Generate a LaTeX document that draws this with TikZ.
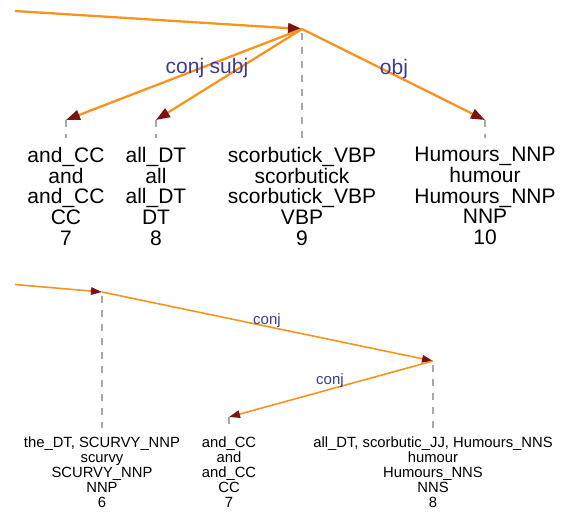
\documentclass[tikz,border=0pt]{standalone}
\usepackage{fontspec}
\setmainfont{Liberation Sans}
\usetikzlibrary{arrows.meta}
\definecolor{edgeor}{HTML}{F7941D}
\definecolor{tipred}{HTML}{7A1414}
\definecolor{lblblue}{HTML}{3B3B96}
\definecolor{dashgray}{HTML}{A8A8A8}
\begin{document}
\begin{tikzpicture}[x=1pt,y=-1pt,
  deptop/.style={draw=edgeor, line width=2.3pt, -{Triangle[length=14pt,width=10pt,color=tipred]}},
  depbot/.style={draw=edgeor, line width=1.6pt, -{Triangle[length=11pt,width=7.5pt,color=tipred]}},
  guide/.style={draw=dashgray, line width=1.2pt, dash pattern=on 7pt off 7pt},
  wordtop/.style={font=\fontsize{21}{20.7}\selectfont, align=center, anchor=north, inner sep=0pt},
  wordbot/.style={font=\fontsize{14.8}{14.8}\selectfont, align=center, anchor=north, inner sep=0pt},
  lbltop/.style={font=\fontsize{21}{21}\selectfont, text=lblblue, inner sep=0pt},
  lblbot/.style={font=\fontsize{15}{15}\selectfont, text=lblblue, inner sep=0pt}]
\useasboundingbox (0,0) rectangle (569,514);
% ---------- top panel ----------
\coordinate (in1) at (15,11);
\coordinate (r9) at (302,29);
\coordinate (r9d) at (302,33);
\coordinate (r9e) at (302,138);
\coordinate (n7) at (66,120);
\coordinate (n7e) at (66,138);
\coordinate (n8) at (156,120);
\coordinate (n8e) at (156,138);
\coordinate (n10) at (485,120);
\coordinate (n10e) at (485,138);
\draw[guide] (r9d) -- (r9e);
\draw[guide] (n7) -- (n7e);
\draw[guide] (n8) -- (n8e);
\draw[guide] (n10) -- (n10e);
\draw[deptop] (in1) -- (r9);
\draw[deptop] (r9) -- (n7);
\draw[deptop] (r9) -- (n8);
\draw[deptop] (r9) -- (n10);
\node[lbltop] (lconj) at (185,68) {conj};
\node[lbltop] (lsubj) at (229,68) {subj};
\node[lbltop] (lobj) at (394,69) {obj};
\node[wordtop] (w7) at (66,147) {and\_CC\\and\\and\_CC\\CC\\7};
\node[wordtop] (w8) at (156,147) {all\_DT\\all\\all\_DT\\DT\\8};
\node[wordtop] (w9) at (302,147) {scorbutick\_VBP\\scorbutick\\scorbutick\_VBP\\VBP\\9};
\node[wordtop] (w10) at (485,147) {Humours\_NNP\\humour\\Humours\_NNP\\NNP\\10};
% ---------- bottom panel ----------
\coordinate (in2) at (15,284.5);
\coordinate (b6) at (102,292);
\coordinate (b6d) at (102,296);
\coordinate (b6e) at (102,428);
\coordinate (b8) at (433,361);
\coordinate (b8d) at (433,365);
\coordinate (b8e) at (433,432);
\coordinate (b7) at (229,417);
\coordinate (b7e) at (229,429);
\draw[guide] (b6d) -- (b6e);
\draw[guide] (b8d) -- (b8e);
\draw[guide] (b7) -- (b7e);
\draw[depbot] (in2) -- (b6);
\draw[depbot] (b6) -- (b8);
\draw[depbot] (b8) -- (b7);
\node[lblbot] (lc1) at (267,321) {conj};
\node[lblbot] (lc2) at (330,381) {conj};
\node[wordbot] (v6) at (102,437) {the\_DT, SCURVY\_NNP\\scurvy\\SCURVY\_NNP\\NNP\\6};
\node[wordbot] (v7) at (229,437) {and\_CC\\and\\and\_CC\\CC\\7};
\node[wordbot] (v8) at (433,437) {all\_DT, scorbutic\_JJ, Humours\_NNS\\humour\\Humours\_NNS\\NNS\\8};
\end{tikzpicture}
\end{document}
